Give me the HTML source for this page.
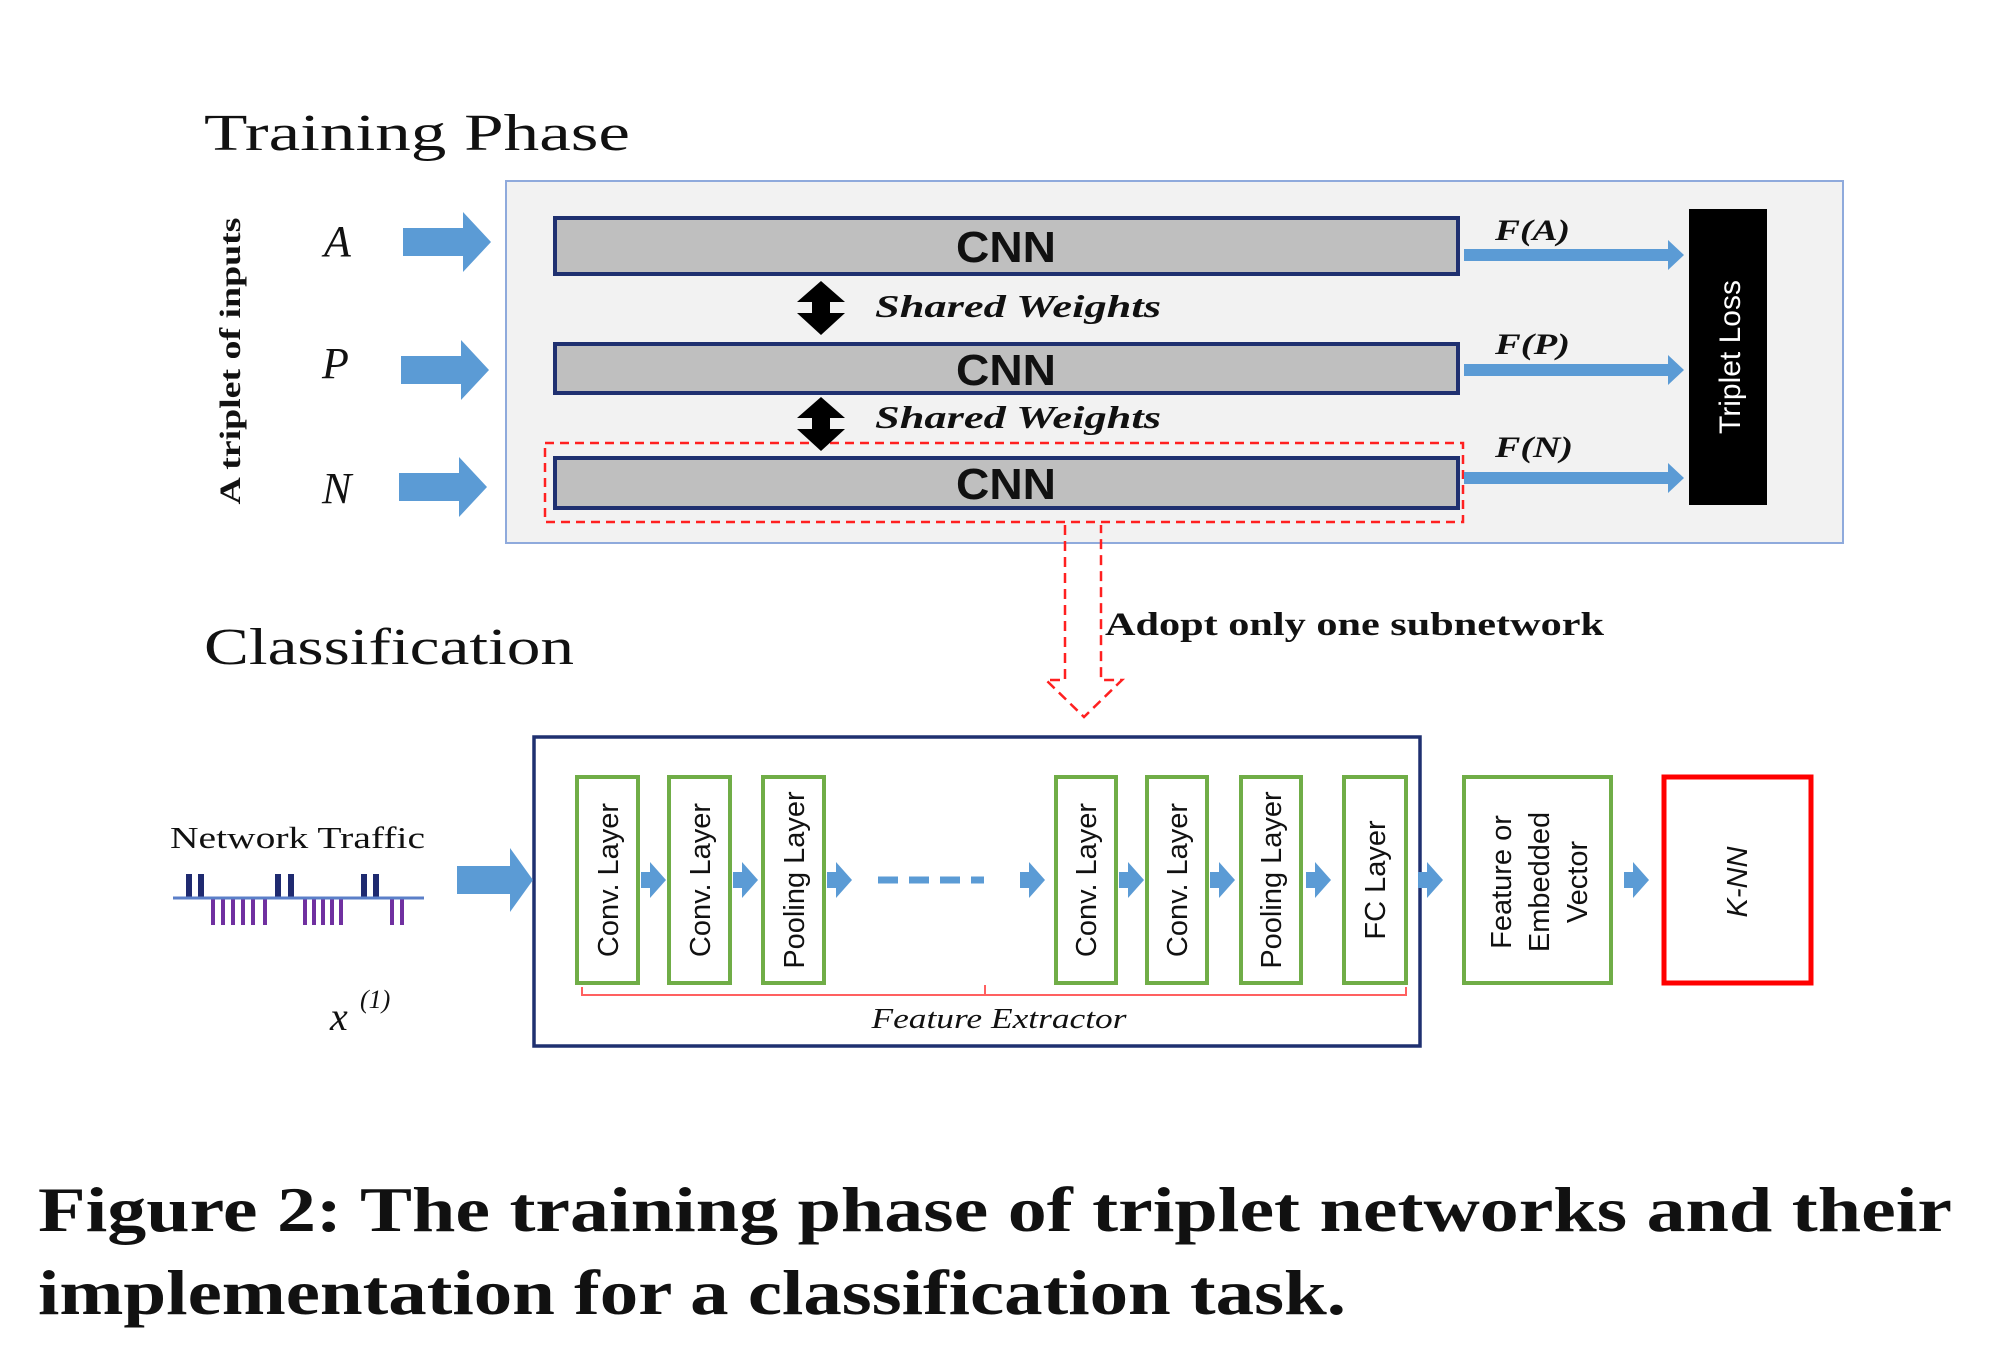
<!DOCTYPE html>
<html><head><meta charset="utf-8"><style>html,body{margin:0;padding:0;background:#fff}svg{display:block}</style></head>
<body>
<svg width="2000" height="1349" viewBox="0 0 2000 1349" xmlns="http://www.w3.org/2000/svg">
<rect width="2000" height="1349" fill="#fff"/>
<text x="204" y="150" font-family="Liberation Serif, serif" font-size="52" fill="#111" textLength="426" lengthAdjust="spacingAndGlyphs">Training Phase</text>
<rect x="506" y="181" width="1337" height="362" fill="#f2f2f2" stroke="#8faadc" stroke-width="2"/>
<g font-family="Liberation Sans, sans-serif" font-weight="bold" font-size="44" fill="#111" text-anchor="middle">
<rect x="555" y="218" width="903" height="56" fill="#bfbfbf" stroke="#1f3070" stroke-width="4"/>
<text x="1006" y="262" textLength="100" lengthAdjust="spacingAndGlyphs">CNN</text>
<rect x="555" y="344" width="903" height="49" fill="#bfbfbf" stroke="#1f3070" stroke-width="4"/>
<text x="1006" y="385" textLength="100" lengthAdjust="spacingAndGlyphs">CNN</text>
<rect x="555" y="458" width="903" height="50" fill="#bfbfbf" stroke="#1f3070" stroke-width="4"/>
<text x="1006" y="499" textLength="100" lengthAdjust="spacingAndGlyphs">CNN</text>
</g>
<rect x="545" y="443" width="918" height="79" fill="none" stroke="#ff2020" stroke-width="2.5" stroke-dasharray="9,6"/>
<rect x="1689" y="209" width="78" height="296" fill="#000"/>
<text transform="translate(1740,357) rotate(-90)" text-anchor="middle" font-family="Liberation Sans, sans-serif" font-size="30" fill="#fff">Triplet Loss</text>
<g fill="#5b9bd5">
<path d="M403,228 H463 V212 L491,242 L463,272 V256 H403 Z"/>
<path d="M401,356 H461 V340 L489,370 L461,400 V384 H401 Z"/>
<path d="M399,473 H459 V457 L487,487 L459,517 V501 H399 Z"/>
</g>
<g font-family="Liberation Serif, serif" font-style="italic" font-size="44" fill="#111">
<text x="324" y="256">A</text><text x="322" y="378">P</text><text x="322" y="503">N</text>
</g>
<text transform="translate(240,361) rotate(-90)" text-anchor="middle" font-family="Liberation Serif, serif" font-weight="bold" font-size="30" fill="#111" textLength="287" lengthAdjust="spacingAndGlyphs">A triplet of inputs</text>
<g fill="#5b9bd5">
<path d="M1464,249 H1668 V240 L1684,255 L1668,270 V261 H1464 Z"/>
<path d="M1464,364 H1668 V355 L1684,370 L1668,385 V376 H1464 Z"/>
<path d="M1464,472 H1668 V463 L1684,478 L1668,493 V484 H1464 Z"/>
</g>
<g font-family="Liberation Serif, serif" font-style="italic" font-weight="bold" font-size="30" fill="#111">
<text x="1495" y="240" textLength="75" lengthAdjust="spacingAndGlyphs">F(A)</text><text x="1495" y="354" textLength="75" lengthAdjust="spacingAndGlyphs">F(P)</text><text x="1495" y="457" textLength="78" lengthAdjust="spacingAndGlyphs">F(N)</text>
</g>
<g fill="#000">
<path d="M821,281 L845,302 L830,302 L830,313 L845,313 L821,335 L797,313 L812,313 L812,302 L797,302 Z"/>
<path d="M821,397 L845,418 L830,418 L830,429 L845,429 L821,451 L797,429 L812,429 L812,418 L797,418 Z"/>
</g>
<g font-family="Liberation Serif, serif" font-style="italic" font-weight="bold" font-size="32" fill="#111">
<text x="875" y="317" textLength="286" lengthAdjust="spacingAndGlyphs">Shared Weights</text>
<text x="875" y="428" textLength="286" lengthAdjust="spacingAndGlyphs">Shared Weights</text>
</g>
<g stroke="#ff2020" stroke-width="2.5" fill="none" stroke-dasharray="10,6">
<path d="M1065,525 V680 L1046,680 L1084,717 L1122,680 L1101,680 V525"/>
</g>
<text x="1105" y="635" font-family="Liberation Serif, serif" font-weight="bold" font-size="33" fill="#111" textLength="499" lengthAdjust="spacingAndGlyphs">Adopt only one subnetwork</text>
<text x="204" y="664" font-family="Liberation Serif, serif" font-size="52" fill="#111" textLength="370" lengthAdjust="spacingAndGlyphs">Classification</text>
<rect x="534" y="737" width="886" height="309" fill="#fff" stroke="#1f3070" stroke-width="3.5"/>
<g fill="#fff" stroke="#70ad47" stroke-width="4">
<rect x="577" y="777" width="61" height="206"/>
<rect x="669" y="777" width="61" height="206"/>
<rect x="763" y="777" width="61" height="206"/>
<rect x="1056" y="777" width="60" height="206"/>
<rect x="1147" y="777" width="60" height="206"/>
<rect x="1241" y="777" width="60" height="206"/>
<rect x="1344" y="777" width="62" height="206"/>
<rect x="1464" y="777" width="147" height="206"/>
</g>
<rect x="1664" y="777" width="147" height="206" fill="#fff" stroke="#ff0000" stroke-width="5"/>
<g font-family="Liberation Sans, sans-serif" font-size="29" fill="#111" text-anchor="middle">
<text transform="translate(618,880) rotate(-90)">Conv. Layer</text>
<text transform="translate(710,880) rotate(-90)">Conv. Layer</text>
<text transform="translate(804,880) rotate(-90)">Pooling Layer</text>
<text transform="translate(1096,880) rotate(-90)">Conv. Layer</text>
<text transform="translate(1187,880) rotate(-90)">Conv. Layer</text>
<text transform="translate(1281,880) rotate(-90)">Pooling Layer</text>
<text transform="translate(1385,880) rotate(-90)">FC Layer</text>
<text transform="translate(1511,882) rotate(-90)">Feature or</text>
<text transform="translate(1549,882) rotate(-90)">Embedded</text>
<text transform="translate(1587,882) rotate(-90)">Vector</text>
<text transform="translate(1747,882) rotate(-90)" font-style="italic">K-NN</text>
</g>
<g fill="#5b9bd5">
<path d="M641,872 H650 V862 L666,880 L650,898 V888 H641 Z"/>
<path d="M733,872 H742 V862 L758,880 L742,898 V888 H733 Z"/>
<path d="M827,872 H836 V862 L852,880 L836,898 V888 H827 Z"/>
<path d="M1020,872 H1029 V862 L1045,880 L1029,898 V888 H1020 Z"/>
<path d="M1119,872 H1128 V862 L1144,880 L1128,898 V888 H1119 Z"/>
<path d="M1210,872 H1219 V862 L1235,880 L1219,898 V888 H1210 Z"/>
<path d="M1306,872 H1315 V862 L1331,880 L1315,898 V888 H1306 Z"/>
<path d="M1418,872 H1427 V862 L1443,880 L1427,898 V888 H1418 Z"/>
<path d="M1624,872 H1633 V862 L1649,880 L1633,898 V888 H1624 Z"/>
<path d="M457,866 H510 V848 L533,880 L510,912 V894 H457 Z"/>
</g>
<line x1="878" y1="880" x2="984" y2="880" stroke="#5b9bd5" stroke-width="7" stroke-dasharray="20,11"/>
<path d="M582,987 V995 H1406 V987 M985,995 V985" fill="none" stroke="#ff6060" stroke-width="2"/>
<text x="999" y="1028" text-anchor="middle" font-family="Liberation Serif, serif" font-style="italic" font-size="28" fill="#111" textLength="255" lengthAdjust="spacingAndGlyphs">Feature Extractor</text>
<text x="170" y="848" font-family="Liberation Serif, serif" font-size="31" fill="#111" textLength="255" lengthAdjust="spacingAndGlyphs">Network Traffic</text>
<g stroke="#1f2a70" stroke-width="6">
<line x1="189" y1="874" x2="189" y2="898"/><line x1="201" y1="874" x2="201" y2="898"/>
<line x1="278" y1="874" x2="278" y2="898"/><line x1="291" y1="874" x2="291" y2="898"/>
<line x1="364" y1="874" x2="364" y2="898"/><line x1="376" y1="874" x2="376" y2="898"/>
</g>
<g stroke="#7030a0" stroke-width="4">
<line x1="213" y1="899" x2="213" y2="925"/><line x1="223" y1="899" x2="223" y2="925"/><line x1="233" y1="899" x2="233" y2="925"/><line x1="243" y1="899" x2="243" y2="925"/><line x1="253" y1="899" x2="253" y2="925"/><line x1="265" y1="899" x2="265" y2="925"/>
<line x1="305" y1="899" x2="305" y2="925"/><line x1="314" y1="899" x2="314" y2="925"/><line x1="323" y1="899" x2="323" y2="925"/><line x1="332" y1="899" x2="332" y2="925"/><line x1="341" y1="899" x2="341" y2="925"/>
<line x1="392" y1="899" x2="392" y2="925"/><line x1="402" y1="899" x2="402" y2="925"/>
</g>
<line x1="173" y1="898" x2="424" y2="898" stroke="#5b7fc8" stroke-width="3"/>
<text x="330" y="1030" font-family="Liberation Serif, serif" font-style="italic" font-size="40" fill="#111">x</text>
<text x="360" y="1008" font-family="Liberation Serif, serif" font-style="italic" font-size="26" fill="#111">(1)</text>
<g font-family="Liberation Serif, serif" font-weight="bold" font-size="64" fill="#111">
<text x="38" y="1231" textLength="1914" lengthAdjust="spacingAndGlyphs">Figure 2: The training phase of triplet networks and their</text>
<text x="38" y="1314" textLength="1308" lengthAdjust="spacingAndGlyphs">implementation for a classification task.</text>
</g>
</svg>
</body></html>
